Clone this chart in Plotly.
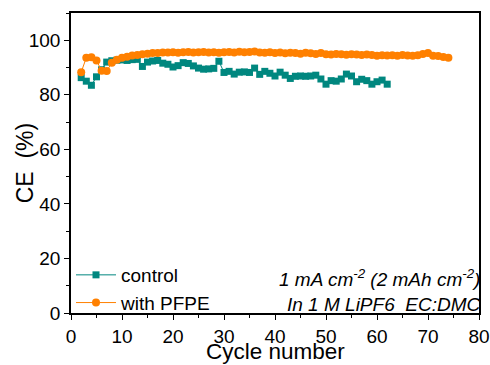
import plotly.graph_objects as go

# Coulombic efficiency per cycle
control_cycles = list(range(2, 63))
control_ce = [86.3, 85.0, 83.5, 86.6, 89.2, 92.0, 92.5, 92.7, 92.8, 92.6,
              92.9, 93.0, 90.4, 92.0, 92.4, 92.6, 91.6, 91.2, 90.2, 90.7,
              91.8, 91.5, 90.6, 89.8, 89.4, 89.5, 89.7, 92.3, 88.2, 88.6,
              87.6, 88.3, 88.4, 88.2, 89.8, 87.5, 88.6, 87.9, 86.9, 88.3,
              87.2, 86.0, 86.8, 86.9, 86.8, 86.9, 87.2, 85.8, 83.9, 85.2,
              85.0, 85.8, 87.6, 86.9, 84.8, 85.7, 85.2, 83.9, 84.8, 85.4,
              83.9]

pfpe_cycles = list(range(2, 75))
pfpe_ce = [88.3, 93.6, 93.8, 92.6, 88.8, 88.7, 91.8, 92.9, 93.6, 94.0,
           94.4, 94.6, 94.9, 95.1, 95.3, 95.3, 95.5, 95.5, 95.6, 95.4,
           95.6, 95.7, 95.5, 95.6, 95.7, 95.5, 95.6, 95.4, 95.6, 95.7,
           95.5, 95.8, 95.6, 95.7, 95.9, 95.5, 95.4, 95.6, 95.3, 95.5,
           95.2, 95.4, 95.3, 95.1, 95.4, 95.2, 95.0, 95.3, 94.9, 94.8,
           95.0, 94.9, 94.7, 94.9, 94.8, 94.6, 94.8, 94.6, 94.3, 94.5,
           94.4, 94.5, 94.3, 94.6, 94.4, 94.3, 94.5, 95.0, 95.3, 94.3,
           94.2, 93.9, 93.6]

x_ticks = [0, 10, 20, 30, 40, 50, 60, 70, 80]
y_ticks = [0, 20, 40, 60, 80, 100]

TEAL = "#00877F"
ORANGE = "#FF8000"
FONT = "Liberation Sans, Arial, sans-serif"

fig = go.Figure()
fig.add_trace(go.Scatter(
    x=control_cycles, y=control_ce, name="control", mode="lines+markers",
    line=dict(color=TEAL, width=1),
    marker=dict(symbol="square", size=7, color=TEAL),
))
fig.add_trace(go.Scatter(
    x=pfpe_cycles, y=pfpe_ce, name="with PFPE", mode="lines+markers",
    line=dict(color=ORANGE, width=1),
    marker=dict(symbol="circle", size=8, color=ORANGE),
))

axis_common = dict(
    showline=True, linecolor="black", linewidth=1.5, mirror=True,
    ticks="outside", ticklen=5, tickwidth=1.2, tickcolor="black",
    showgrid=False, zeroline=False, automargin=False,
    tickfont=dict(family=FONT, size=19, color="black"),
)

fig.update_xaxes(
    range=[0, 80], tickvals=x_ticks,
    minor=dict(dtick=5, ticks="outside", ticklen=3, tickcolor="black", tickwidth=1),
    **axis_common,
)
fig.update_yaxes(
    range=[0, 110], tickvals=y_ticks,
    minor=dict(dtick=10, ticks="outside", ticklen=3, tickcolor="black", tickwidth=1),
    **axis_common,
)

# Axis titles
fig.add_annotation(
    x=0.5, y=-0.127, xref="paper", yref="paper", xanchor="center", yanchor="middle",
    text="Cycle number", showarrow=False, borderpad=0,
    font=dict(family=FONT, size=22.5, color="black"),
)
fig.add_annotation(
    x=-0.112, y=0.5, xref="paper", yref="paper", xanchor="center", yanchor="middle",
    text="CE  (%)", showarrow=False, textangle=-90,
    font=dict(family=FONT, size=23, color="black"),
)

# Test conditions
fig.add_annotation(
    x=1.008, y=0.117, xref="paper", yref="paper", xanchor="right", yanchor="middle",
    text="<i>1 mA cm<sup>-2</sup> (2 mAh cm<sup>-2</sup>)</i>", showarrow=False,
    font=dict(family=FONT, size=19, color="black"),
)
fig.add_annotation(
    x=1.008, y=0.03, xref="paper", yref="paper", xanchor="right", yanchor="middle",
    text="<i>In 1 M LiPF6  EC:DMC</i>", showarrow=False,
    font=dict(family=FONT, size=19, color="black"),
)

fig.update_layout(
    width=490, height=365,
    margin=dict(l=71, r=11, t=13, b=52, autoexpand=False),
    paper_bgcolor="white", plot_bgcolor="white",
    font=dict(family=FONT, color="black"),
    legend=dict(x=0.0, y=-0.03, xanchor="left", yanchor="bottom",
                bgcolor="rgba(0,0,0,0)", font=dict(family=FONT, size=19),
                itemwidth=40, tracegroupgap=0),
    showlegend=True,
)

fig.write_html("out.html")
